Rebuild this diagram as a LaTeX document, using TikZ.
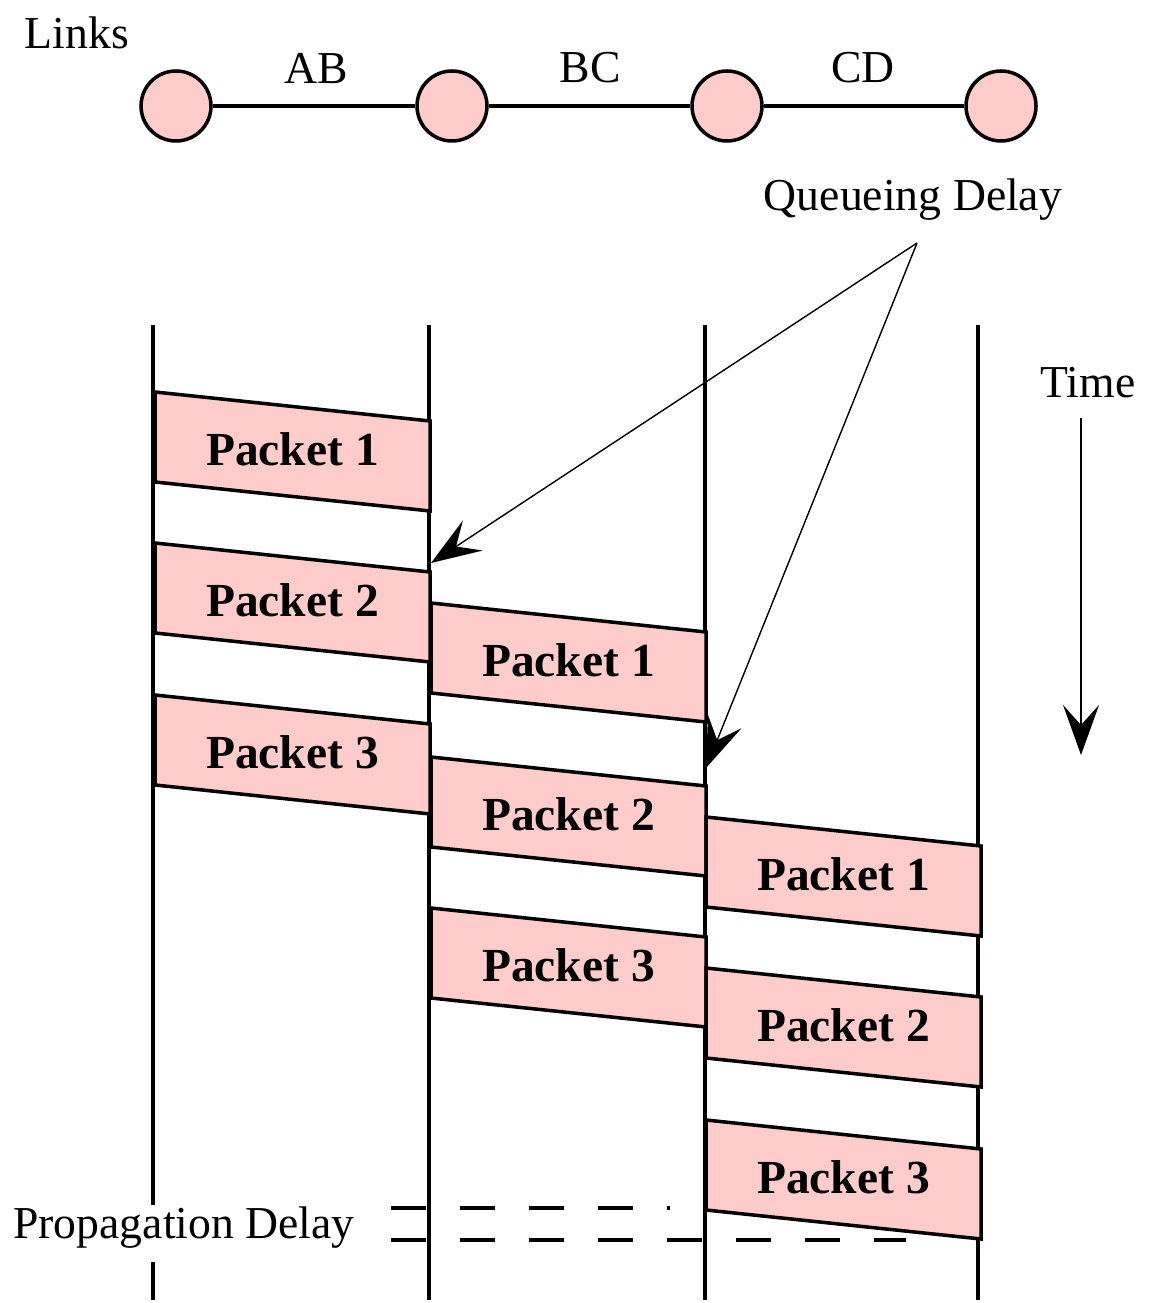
\documentclass[tikz,border=0pt]{standalone}
\usepackage{fontspec}
\setmainfont{Liberation Serif}
\usetikzlibrary{arrows.meta, positioning}
\definecolor{pktpink}{RGB}{255,204,204}

\begin{document}
\begin{tikzpicture}[> = {Stealth[length=5mm, width=3.6mm, inset=2mm]},
	line/.style  = {line width=1pt},
	hop/.style   = {draw, line, fill=pktpink, circle, minimum size=0.7cm, inner sep=0pt},
	packet/.style = {draw, line, fill=pktpink},
	lbl/.style   = {font=\fontsize{13}{15}\selectfont},
	plbl/.style  = {font=\fontsize{13.5}{16}\selectfont\bfseries}]
			\useasboundingbox (0,0) rectangle (11.51,-13.03);
			
			% links
			\node [lbl] (links) at (0.77,-0.33) {Links};
			\node [hop] (A) at (1.76,-1.06) {};
			\node [hop] (B) at (4.52,-1.06) {};
			\node [hop] (C) at (7.27,-1.06) {};
			\node [hop] (D) at (10.01,-1.06) {};
			\draw [line] (A) -- (B);
			\draw [line] (B) -- (C);
			\draw [line] (C) -- (D);
			\node [lbl] (ab) at (3.16,-0.68) {AB};
			\node [lbl] (bc) at (5.90,-0.68) {BC};
			\node [lbl] (cd) at (8.63,-0.68) {CD};
			
			% time lines
			\draw [line] (1.53,-3.25) -- (1.53,-12.05);
			\draw [line] (1.53,-12.62) -- (1.53,-13.0);
			\draw [line] (4.29,-3.25) -- (4.29,-13.0);
			\draw [line] (7.05,-3.25) -- (7.05,-13.0);
			\draw [line] (9.78,-3.25) -- (9.78,-13.0);
			
			% AB
			\draw [packet] (1.55,-3.92) -- ++(2.75,-0.29) -- ++(0,-0.90) -- ++(-2.75,0.29) -- cycle;
			\draw [packet] (1.55,-5.43) -- ++(2.75,-0.29) -- ++(0,-0.90) -- ++(-2.75,0.29) -- cycle;
			\draw [packet] (1.55,-6.95) -- ++(2.75,-0.29) -- ++(0,-0.90) -- ++(-2.75,0.29) -- cycle;
			\node [plbl] (ab1) at (2.925,-4.49) {Packet 1};
			\node [plbl] (ab2) at (2.925,-6.00) {Packet 2};
			\node [plbl] (ab3) at (2.925,-7.52) {Packet 3};
			
			% BC
			\draw [packet] (4.31,-6.03) -- ++(2.75,-0.29) -- ++(0,-0.90) -- ++(-2.75,0.29) -- cycle;
			\draw [packet] (4.31,-7.57) -- ++(2.75,-0.29) -- ++(0,-0.90) -- ++(-2.75,0.29) -- cycle;
			\draw [packet] (4.31,-9.08) -- ++(2.75,-0.29) -- ++(0,-0.90) -- ++(-2.75,0.29) -- cycle;
			\node [plbl] (bc1) at (5.685,-6.60) {Packet 1};
			\node [plbl] (bc2) at (5.685,-8.14) {Packet 2};
			\node [plbl] (bc3) at (5.685,-9.65) {Packet 3};
			
			% CD
			\draw [packet] (7.06,-8.17) -- ++(2.75,-0.29) -- ++(0,-0.90) -- ++(-2.75,0.29) -- cycle;
			\draw [packet] (7.06,-9.68) -- ++(2.75,-0.29) -- ++(0,-0.90) -- ++(-2.75,0.29) -- cycle;
			\draw [packet] (7.06,-11.20) -- ++(2.75,-0.29) -- ++(0,-0.90) -- ++(-2.75,0.29) -- cycle;
			\node [plbl] (cd1) at (8.435,-8.74) {Packet 1};
			\node [plbl] (cd2) at (8.435,-10.25) {Packet 2};
			\node [plbl] (cd3) at (8.435,-11.77) {Packet 3};
			
			% queueing delay
			\node [lbl] (qd) at (9.13,-2.00) {Queueing Delay};
			\coordinate (qd-from) at (9.17,-2.43);
			\coordinate (qd-ab) at (4.31,-5.63);
			\coordinate (qd-bc) at (7.06,-7.68);
			\draw [->] (qd-from) -- (qd-ab);
			\draw [->] (qd-from) -- (qd-bc);
			
			% time
			\node [lbl] (time) at (10.88,-3.83) {Time};
			\coordinate (time-from) at (10.81,-4.18);
			\coordinate (time-to) at (10.81,-7.55);
			\draw [->, semithick] (time-from) -- (time-to);
			
			% propagation delay
			\node [lbl] (pd) at (1.84,-12.28) {Propagation Delay};
			\draw [line, dash pattern=on 0.35cm off 0.34cm] (3.91,-12.08) -- (6.70,-12.08);
			\draw [line, dash pattern=on 0.35cm off 0.34cm] (3.91,-12.40) -- (9.06,-12.40);
		\end{tikzpicture}
\end{document}
